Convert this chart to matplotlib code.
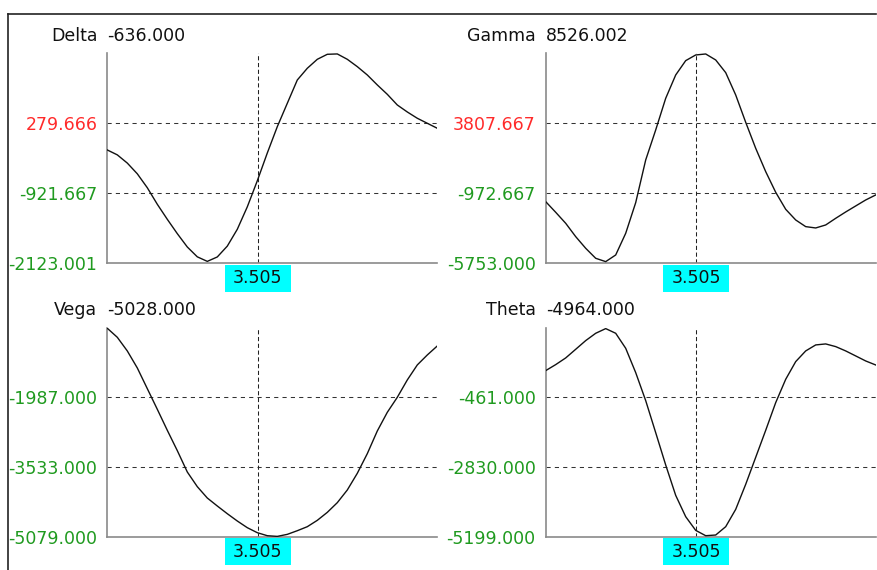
import numpy as np
import matplotlib.pyplot as plt
import matplotlib.transforms as mtransforms
from matplotlib.patches import Rectangle
from matplotlib.lines import Line2D

# underlying price grid (x axis carries no labels in the chart)
price = np.linspace(2.0, 5.3, 34)
cursor = 3.505

delta = [-178, -262, -403, -587, -826, -1110, -1368, -1614, -1843, -2012,
         -2090, -2014, -1828, -1539, -1154, -707, -230, 222, 623, 1023,
         1224, 1378, 1464, 1470, 1378, 1252, 1109, 938, 777, 594,
         474, 366, 280, 194]
gamma = [-1542, -2270, -3021, -3932, -4728, -5411, -5639, -5184, -3704, -1610,
         1304, 3353, 5515, 7108, 8087, 8474, 8542, 8133, 7268, 5743,
         3876, 2101, 507, -904, -2065, -2794, -3249, -3340, -3135, -2680,
         -2247, -1837, -1428, -1086]
vega = [-456, -656, -959, -1336, -1795, -2253, -2719, -3170, -3644, -3969,
        -4221, -4398, -4569, -4731, -4879, -4990, -5057, -5072, -5027, -4946,
        -4857, -4716, -4539, -4324, -4043, -3673, -3237, -2734, -2320, -1987,
        -1602, -1269, -1048, -848]
theta = [446, 650, 877, 1171, 1466, 1715, 1874, 1715, 1205, 378,
         -574, -1663, -2762, -3794, -4519, -4984, -5165, -5142, -4859, -4270,
         -3419, -2501, -1583, -642, 151, 752, 1115, 1319, 1353, 1262,
         1115, 945, 774, 638]

delta_ticks = [-2123.001, -921.667, 279.666]
gamma_ticks = [-5753.000, -972.667, 3807.667]
vega_ticks = [-5079.000, -3533.000, -1987.000]
theta_ticks = [-5199.000, -2830.000, -461.000]

names = ['Delta', 'Gamma', 'Vega', 'Theta']
current = [-636.000, 8526.002, -5028.000, -4964.000]
series = [delta, gamma, vega, theta]
ticks_all = [delta_ticks, gamma_ticks, vega_ticks, theta_ticks]

W, H = 877, 570
fig = plt.figure(figsize=(W / 100, H / 100), dpi=100)
plt.rcParams['font.family'] = 'DejaVu Sans'
FS = 12.5

# left px, bottom px (from top), height px
boxes = [(107.3, 263.3, 210.0), (545.7, 263.3, 210.0),
         (107.3, 536.7, 209.1), (545.7, 536.7, 209.1)]

for (x0, yb, h), name, val, ys, ticks in zip(boxes, names, current, series, ticks_all):
    ax = fig.add_axes([x0 / W, 1 - yb / H, 330 / W, h / H])
    ax.plot(price, ys, color='#111111', lw=1.0, zorder=3)
    step = ticks[2] - ticks[1]
    ax.set_xlim(price[0], price[-1])
    ax.set_ylim(ticks[0], ticks[2] + step)
    ax.set_xticks([])
    ax.set_yticks(ticks)
    ax.set_yticklabels([f'{t:.3f}' for t in ticks])
    for lab, t in zip(ax.get_yticklabels(), ticks):
        lab.set_color('#ff2a2a' if t > 0 else '#1f9a1f')
    ax.tick_params(axis='y', length=0, pad=7.2, labelsize=FS)
    for t in ticks[1:]:
        ax.axhline(t, color='#333333', lw=0.75, dashes=(4, 4), zorder=2)
    ax.axvline(cursor, color='#222222', lw=0.75, dashes=(4, 2.5), zorder=2)

    for s in ['top', 'right']:
        ax.spines[s].set_visible(False)
    for s in ['left', 'bottom']:
        ax.spines[s].set_color('#8a8a8a')
        ax.spines[s].set_linewidth(1.2)

    # cursor value box below the axis
    trans = mtransforms.blended_transform_factory(ax.transData, ax.transAxes)
    ax.add_patch(Rectangle((cursor - 0.33, -28.5 / h), 0.66, 27.0 / h,
                           transform=trans, fc='#00ffff', ec='none',
                           clip_on=False, zorder=4))
    ax.text(cursor, -15.0 / h, f'{cursor:.3f}', transform=trans, ha='center',
            va='center', fontsize=FS, color='#111111', zorder=5, clip_on=False)

    ax.annotate(name, xy=(0, 1), xycoords='axes fraction', xytext=(-7.2, 9.1),
                textcoords='offset points', ha='right', va='baseline',
                fontsize=FS, color='#111111')
    ax.annotate(f'{val:.3f}', xy=(0, 1), xycoords='axes fraction', xytext=(0, 9.1),
                textcoords='offset points', ha='left', va='baseline',
                fontsize=FS, color='#111111')

# frame of the panel: white margin + dark top/left border
fig.add_artist(Rectangle((0, 0), 7.0 / W, 1, transform=fig.transFigure,
                         fc='white', ec='none', zorder=5))
fig.add_artist(Line2D([7.5 / W, 876 / W], [1 - 13.5 / H] * 2, color='#222222',
                      lw=1.2, zorder=6))
fig.add_artist(Line2D([7.5 / W] * 2, [0, 1 - 13.5 / H], color='#222222',
                      lw=1.2, zorder=6))

fig.savefig('out.png', dpi=100)
